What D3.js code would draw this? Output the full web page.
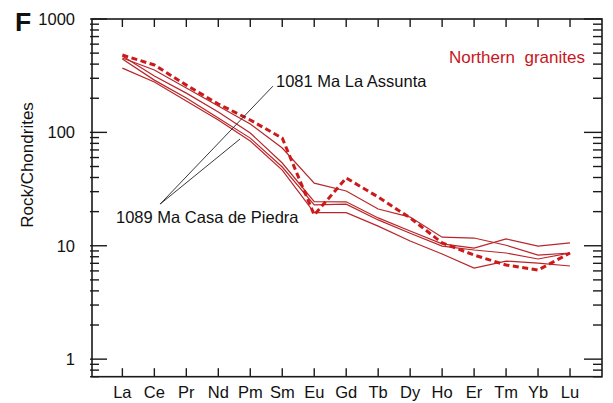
<!DOCTYPE html>
<html>
<head>
<meta charset="utf-8">
<script src="https://cdn.jsdelivr.net/npm/d3@7"></script>
<style>
  html, body { margin: 0; padding: 0; background: #fff; }
  svg { display: block; }
  text { font-family: "Liberation Sans", Arial, sans-serif; }
</style>
</head>
<body>
<svg id="chart" width="613" height="403"></svg>
<script>
// Rare earth elements, chondrite-normalised
const elements = ["La","Ce","Pr","Nd","Pm","Sm","Eu","Gd","Tb","Dy","Ho","Er","Tm","Yb","Lu"];

// 1089 Ma Casa de Piedra / 1081 Ma La Assunta samples (thin lines)
const sampleA = [453, 355, 246, 171, 118.5, 72.8, 35.7, 30.4, 21.1, 17.9, 11.9, 11.7, 10.1, 8.28, 8.63];
const sampleB = [471, 314, 222, 151, 98.7, 53.7, 24.5, 24.4, 17.6, 13.5, 10.4, 9.55, 11.5, 9.94, 10.6];
const sampleC = [443, 289, 201, 134, 89, 49.5, 22.9, 23.3, 16.9, 12.9, 9.94, 9.17, 8.63, 7.64, 8.63];
const sampleD = [369, 278, 189, 128.5, 83.9, 46.5, 19.6, 19.6, 14.9, 11.0, 8.45, 6.36, 7.33, 7.04, 6.63];

// Northern granites average (dashed)
const northernAvg = [481, 393, 261, 178, 128.5, 89, 18.7, 39.6, 26.9, 17.6, 10.6, 8.28, 6.76, 6.11, 8.63];

const yMajorTicks = [1, 10, 100, 1000];
const yTickLabels = ["1", "10", "100", "1000"];

// Leader lines for the sample labels: [element index, value]
const leaderOrigin = [1.18, 23.3];
const leaderTargets = [[4.71, 256], [3.68, 87.4]];

const svg = d3.select("#chart");
const plotLeft = 92, plotRight = 602, plotTop = 19, plotBottom = 376.7;

const x = d3.scaleLinear().domain([-0.95, 15]).range([plotLeft, plotRight]);
const y = d3.scaleLog().domain([0.7, 1000]).range([plotBottom, plotTop]);

const thinColor = "#b8262a";
const dashColor = "#cc1a1a";
const axisColor = "#1a1a1a";

// minor log ticks
const minorTicks = [];
[0.1, 1, 10, 100].forEach(d => {
  for (let k = 2; k <= 9; k++) {
    const v = k * d;
    if (v >= 0.7 && v < 1000) minorTicks.push(v);
  }
});

const ax = svg.append("g").attr("stroke", axisColor).attr("stroke-width", 1.4);

// left axis ticks (pointing inward)
ax.selectAll(".lmin").data(minorTicks).join("line")
  .attr("x1", plotLeft - 2).attr("x2", plotLeft + 7)
  .attr("y1", d => y(d)).attr("y2", d => y(d));
ax.selectAll(".lmaj").data(yMajorTicks).join("line")
  .attr("x1", plotLeft - 2).attr("x2", plotLeft + 15)
  .attr("y1", d => y(d)).attr("y2", d => y(d));
// right axis ticks (pointing inward)
ax.selectAll(".rmin").data(minorTicks).join("line")
  .attr("x1", plotRight - 9).attr("x2", plotRight)
  .attr("y1", d => y(d)).attr("y2", d => y(d));
ax.selectAll(".rmaj").data(yMajorTicks).join("line")
  .attr("x1", plotRight - 18).attr("x2", plotRight)
  .attr("y1", d => y(d)).attr("y2", d => y(d));
// top and bottom category ticks
ax.selectAll(".tt").data(elements).join("line")
  .attr("x1", (d, i) => x(i)).attr("x2", (d, i) => x(i))
  .attr("y1", plotTop).attr("y2", plotTop + 8);
ax.selectAll(".bt").data(elements).join("line")
  .attr("x1", (d, i) => x(i)).attr("x2", (d, i) => x(i))
  .attr("y1", plotBottom).attr("y2", plotBottom - 8.5);

// frame
svg.append("rect")
  .attr("x", plotLeft).attr("y", plotTop)
  .attr("width", plotRight - plotLeft).attr("height", plotBottom - plotTop)
  .attr("fill", "none").attr("stroke", axisColor).attr("stroke-width", 1.6);

// y tick labels
svg.selectAll(".ylab").data(yMajorTicks).join("text")
  .attr("x", 75).attr("y", d => y(d)).attr("dy", "0.35em")
  .attr("text-anchor", "end").attr("font-size", 16.5).attr("fill", "#111")
  .text((d, i) => yTickLabels[i]);

// x tick labels
svg.selectAll(".xlab").data(elements).join("text")
  .attr("x", (d, i) => x(i)).attr("y", 398)
  .attr("text-anchor", "middle").attr("font-size", 16.5).attr("fill", "#111")
  .text(d => d);

// y axis title
svg.append("text")
  .attr("transform", "translate(33,165) rotate(-90)")
  .attr("text-anchor", "middle").attr("font-size", 17).attr("fill", "#111")
  .text("Rock/Chondrites");

// panel letter
svg.append("text")
  .attr("x", 15).attr("y", 31)
  .attr("font-size", 26.5).attr("font-weight", "bold").attr("fill", "#111")
  .text("F");

const line = d3.line().x((d, i) => x(i)).y(d => y(d));

// sample curves
svg.append("g").selectAll("path")
  .data([sampleA, sampleB, sampleC, sampleD]).join("path")
  .attr("d", line)
  .attr("fill", "none").attr("stroke", thinColor).attr("stroke-width", 1.2);

// average curve
svg.append("path")
  .attr("d", line(northernAvg))
  .attr("fill", "none").attr("stroke", dashColor)
  .attr("stroke-width", 3).attr("stroke-dasharray", "6,3.5");

// leader lines
svg.append("g").selectAll("line").data(leaderTargets).join("line")
  .attr("x1", x(leaderOrigin[0])).attr("y1", y(leaderOrigin[1]))
  .attr("x2", d => x(d[0])).attr("y2", d => y(d[1]))
  .attr("stroke", "#222").attr("stroke-width", 0.9);

// labels
svg.append("text")
  .attr("x", 276).attr("y", 87)
  .attr("font-size", 16.5).attr("fill", "#111")
  .text("1081 Ma La Assunta");
svg.append("text")
  .attr("x", 116).attr("y", 222.5)
  .attr("font-size", 16.5).attr("fill", "#111")
  .text("1089 Ma Casa de Piedra");
svg.append("text")
  .attr("x", 585).attr("y", 62.5)
  .attr("text-anchor", "end")
  .attr("font-size", 17).attr("fill", "#c8161d")
  .attr("xml:space", "preserve")
  .text("Northern  granites");
</script>
</body>
</html>
